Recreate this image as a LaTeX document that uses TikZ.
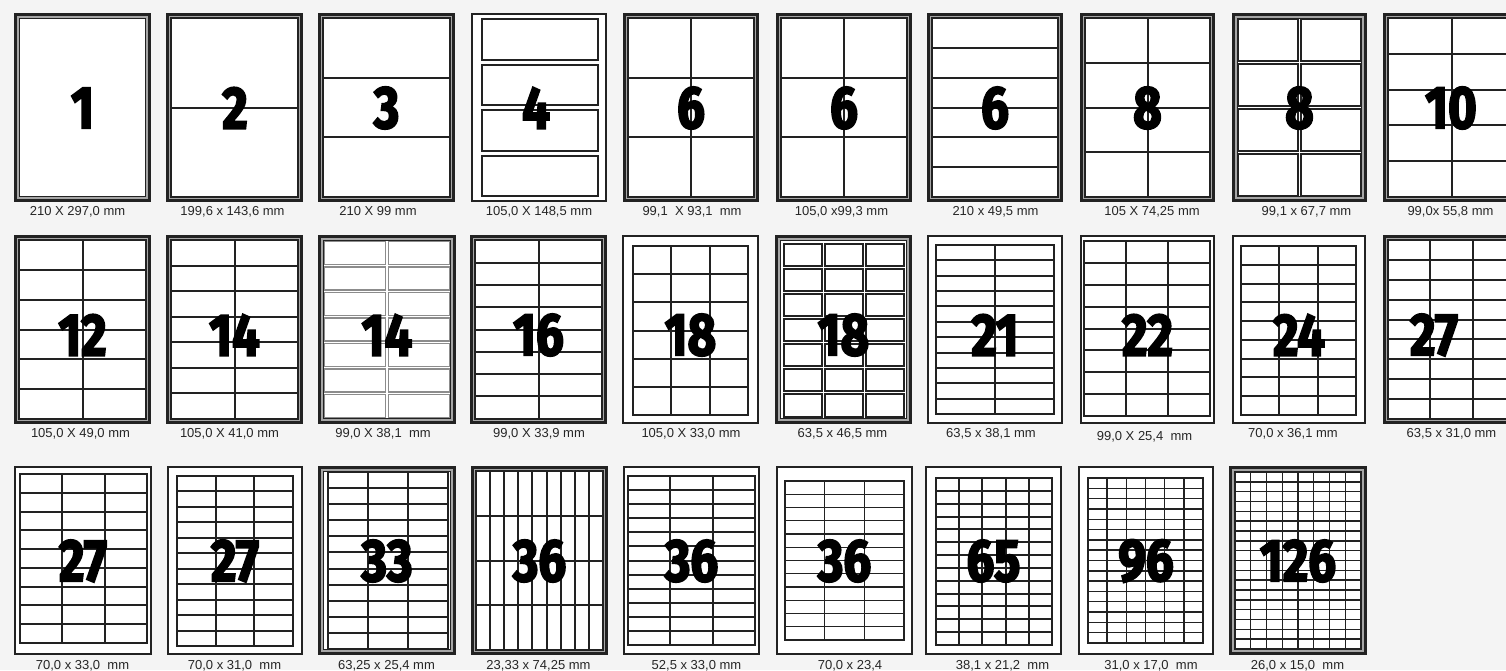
\documentclass[tikz,border=0pt]{standalone}
\usepackage{fontspec}
\setmainfont{Liberation Sans}
\newfontfamily\numfont[FakeStretch=0.82,FakeBold=3]{Fira Sans Bold}
\definecolor{bgc}{HTML}{F4F4F4}
\definecolor{ink}{HTML}{222222}
\tikzset{
  fD/.style={line width=1.35pt, draw=ink, fill=black!35},
  fI/.style={line width=0.7pt, draw=ink, fill=white},
  fS/.style={line width=1.2pt, draw=ink, fill=white},
  gl/.style={line width=1pt, draw=ink},
  gt/.style={line width=0.7pt, draw=ink},
  bx/.style={line width=1pt, draw=ink},
  bg/.style={line width=0.6pt, draw=black!45},
  num/.style={font=\numfont\fontsize{30}{30}\selectfont, inner sep=0pt, text=black},
  lab/.style={font=\fontsize{6.5}{7}\selectfont, anchor=base, inner sep=0pt, text=black!85}
}
\newcommand\frameD[4]{%
  \draw[fD] ({#1+1.3},{#2+1.3}) rectangle ({#3-1.3},{#4-1.3});
  \draw[fI] ({#1+5.3},{#2+5.3}) rectangle ({#3-5.3},{#4-5.3});}
\newcommand\frameS[4]{\draw[fS] ({#1+1.2},{#2+1.2}) rectangle ({#3-1.2},{#4-1.2});}
\newcommand\lgrid[7]{%
  \draw[#7] ({#1},{#2}) rectangle ({#3},{#4});
  \ifnum#5>1 \foreach \k in {2,...,#5}{\draw[#7] ({(#1)+((#3)-(#1))*(\k-1)/#5},{#2}) -- ({(#1)+((#3)-(#1))*(\k-1)/#5},{#4});}\fi
  \ifnum#6>1 \foreach \k in {2,...,#6}{\draw[#7] ({#1},{(#2)+((#4)-(#2))*(\k-1)/#6}) -- ({#3},{(#2)+((#4)-(#2))*(\k-1)/#6});}\fi}
\newcommand\bgrid[8]{%
  \foreach \i in {1,...,#5}{\foreach \j in {1,...,#6}{
    \draw[#8] ({(#1)+((#3)-(#1))*(\i-1)/#5+(#7)/2},{(#2)+((#4)-(#2))*(\j-1)/#6+(#7)/2}) rectangle ({(#1)+((#3)-(#1))*\i/#5-(#7)/2},{(#2)+((#4)-(#2))*\j/#6-(#7)/2});}}}
\newcommand\sheetDG[7]{\frameD{#1}{#2}{#3}{#4}\lgrid{#1+5.3}{#2+5.3}{#3-5.3}{#4-5.3}{#5}{#6}{#7}}
\begin{document}
\begin{tikzpicture}[x=0.5pt,y=-0.5pt]
\useasboundingbox (0,0) rectangle (1506,670);
\clip (0,0) rectangle (1506,670);
\fill[bgc] (0,0) rectangle (1506,670);
% ---------------- Row 1 ----------------
\frameD{14}{13}{151}{202}
\sheetDG{166}{13}{303}{202}{1}{2}{gl}
\sheetDG{318}{13}{455}{202}{1}{3}{gl}
\frameS{471}{13}{607}{202}
\bgrid{479.5}{16.5}{600.5}{198.5}{1}{4}{5}{bx}
\sheetDG{623}{13}{759}{202}{2}{3}{gl}
\sheetDG{776}{13}{912}{202}{2}{3}{gl}
\sheetDG{927}{13}{1063}{202}{1}{6}{gl}
\sheetDG{1080}{13}{1215}{202}{2}{4}{gl}
\frameD{1232}{13}{1367}{202}
\bgrid{1236.5}{17.5}{1362.5}{197.5}{2}{4}{3.5}{bx}
\sheetDG{1383}{13}{1520}{202}{2}{5}{gl}
\node[num] (n11) at (82.5,108) {1};
\node[num] (n12) at (235,108) {2};
\node[num] (n13) at (386.5,108) {3};
\node[num] (n14) at (536,108) {4};
\node[num] (n15) at (691,108) {6};
\node[num] (n16) at (844,108) {6};
\node[num] (n17) at (995,108) {6};
\node[num] (n18) at (1147.5,108) {8};
\node[num] (n19) at (1299.5,108) {8};
\node[num] (n110) at (1451,108) {10};
\node[lab] (l11) at (77.5,215) {210 X 297,0 mm};
\node[lab] (l12) at (232.5,215) {199,6 x 143,6 mm};
\node[lab] (l13) at (378,215) {210 X 99 mm};
\node[lab] (l14) at (539,215) {105,0 X 148,5 mm};
\node[lab] (l15) at (692,215) {99,1\ \ X 93,1\ \ mm};
\node[lab] (l16) at (841.5,215) {105,0 x99,3 mm};
\node[lab] (l17) at (995.5,215) {210 x 49,5 mm};
\node[lab] (l18) at (1152,215) {105 X 74,25 mm};
\node[lab] (l19) at (1306.5,215) {99,1 x 67,7 mm};
\node[lab] (l110) at (1450.5,215) {99,0x 55,8 mm};
% ---------------- Row 2 ----------------
\sheetDG{14}{235}{151}{424}{2}{6}{gl}
\sheetDG{166}{235}{303}{424}{2}{7}{gl}
\frameD{318}{235}{456}{424}
\bgrid{323.3}{240.3}{450.7}{418.7}{2}{7}{2.5}{bg}
\sheetDG{470}{235}{607}{424}{2}{8}{gl}
\frameS{622}{235}{759}{424}
\lgrid{633}{246}{748}{415}{3}{6}{gl}
\frameD{775}{235}{912}{424}
\bgrid{782}{242}{905}{418}{3}{7}{3}{bx}
\frameS{927}{235}{1063}{424}
\lgrid{936}{245}{1054}{414}{2}{11}{gl}
\frameS{1080}{235}{1215}{424}
\lgrid{1084}{241}{1210}{416}{3}{8}{gl}
\frameS{1232}{235}{1366}{424}
\lgrid{1241}{246}{1356}{415}{3}{9}{gl}
\sheetDG{1383}{235}{1520}{424}{3}{9}{gl}
\node[num] (n21) at (82.5,335) {12};
\node[num] (n22) at (234.5,335) {14};
\node[num] (n23) at (387,335) {14};
\node[num] (n24) at (538.5,335) {16};
\node[num] (n25) at (690.5,335) {18};
\node[num] (n26) at (843.5,335) {18};
\node[num] (n27) at (995,335) {21};
\node[num] (n28) at (1147.5,335) {22};
\node[num] (n29) at (1299,335) {24};
\node[num] (n210) at (1434,335) {27};
\node[lab] (l21) at (80.5,437) {105,0 X 49,0 mm};
\node[lab] (l22) at (229.5,437) {105,0 X 41,0 mm};
\node[lab] (l23) at (383,437) {99,0 X 38,1\ \ mm};
\node[lab] (l24) at (539,437) {99,0 X 33,9 mm};
\node[lab] (l25) at (691,437) {105,0 X 33,0 mm};
\node[lab] (l26) at (842.5,437) {63,5 x 46,5 mm};
\node[lab] (l27) at (991,437) {63,5 x 38,1 mm};
\node[lab] (l28) at (1144.5,440) {99,0 X 25,4\ \ mm};
\node[lab] (l29) at (1293,437) {70,0 x 36,1 mm};
\node[lab] (l210) at (1451.5,437) {63,5 x 31,0 mm};
% ---------------- Row 3 ----------------
\frameS{14}{466}{152}{655}
\lgrid{20}{474}{147}{643}{3}{9}{gl}
\frameS{167}{466}{303}{655}
\lgrid{177}{476}{293}{646}{3}{11}{gl}
\frameD{318}{466}{456}{655}
\lgrid{328}{472}{448}{649}{3}{11}{gl}
\sheetDG{471}{466}{608}{655}{9}{4}{gl}
\frameS{623}{466}{760}{655}
\lgrid{628}{476}{755}{645}{3}{12}{gl}
\frameS{776}{466}{913}{655}
\lgrid{785}{481}{904}{640}{3}{12}{gt}
\frameS{925}{466}{1062}{655}
\lgrid{936}{478}{1052}{645}{5}{13}{gl}
\frameS{1078}{466}{1214}{655}
\lgrid{1088}{478}{1203}{643}{6}{16}{gt}
\frameD{1229}{466}{1367}{655}
\lgrid{1235}{472}{1361}{649}{8}{18}{gt}
\node[num] (n31) at (83,561) {27};
\node[num] (n32) at (235,561) {27};
\node[num] (n33) at (387,561) {33};
\node[num] (n34) at (539.5,561) {36};
\node[num] (n35) at (691.5,561) {36};
\node[num] (n36) at (844.5,561) {36};
\node[num] (n37) at (993.5,561) {65};
\node[num] (n38) at (1146,561) {96};
\node[num] (n39) at (1298,561) {126};
\node[lab] (l31) at (82.5,669) {70,0 x 33,0\ \ mm};
\node[lab] (l32) at (234.5,669) {70,0 x 31,0\ \ mm};
\node[lab] (l33) at (386.5,669) {63,25 x 25,4 mm};
\node[lab] (l34) at (538.5,669) {23,33 x 74,25 mm};
\node[lab] (l35) at (696.5,669) {52,5 x 33,0 mm};
\node[lab] (l36) at (850,669) {70,0 x 23,4};
\node[lab] (l37) at (1002.5,669) {38,1 x 21,2\ \ mm};
\node[lab] (l38) at (1151,669) {31,0 x 17,0\ \ mm};
\node[lab] (l39) at (1297.5,669) {26,0 x 15,0\ \ mm};
\end{tikzpicture}
\end{document}
